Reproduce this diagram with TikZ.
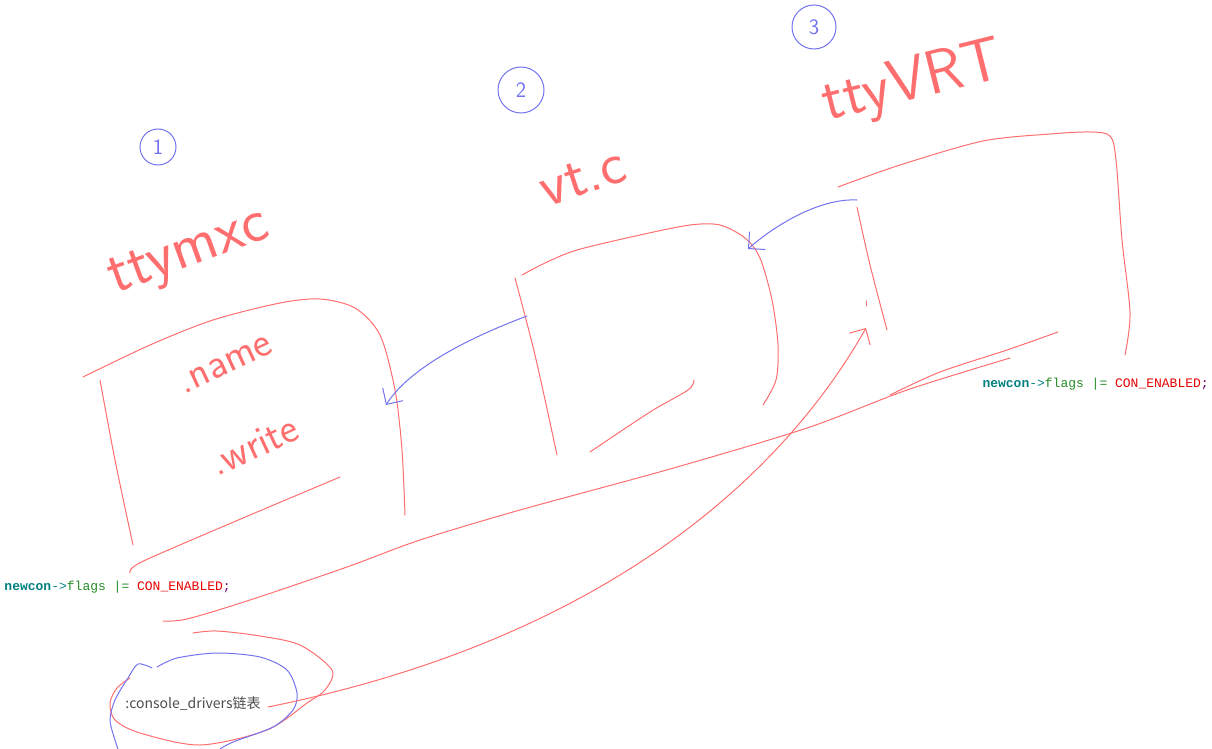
\documentclass[tikz,border=0pt]{standalone}
\usepackage{fontspec}
\setmonofont{Liberation Mono}
\newfontfamily\cjkfont{Noto Sans CJK SC}
\usetikzlibrary{arrows.meta}

\definecolor{sketchred}{RGB}{255,110,110}
\definecolor{sketchblue}{RGB}{115,115,240}
\definecolor{codeteal}{RGB}{0,128,128}
\definecolor{codegreen}{RGB}{40,140,40}
\definecolor{codered}{RGB}{230,0,0}
\definecolor{codepurple}{RGB}{110,0,110}

\begin{document}
\begin{tikzpicture}[x=1pt, y=-1pt, line width=1pt,
        redline/.style = {draw = sketchred, line cap=round, line join=round},
        blueline/.style = {draw = sketchblue, line cap=round, line join=round},
        barb/.style = {-{Straight Barb[length=12pt, width=24pt]}},
        hand/.style = {text = sketchred, inner sep=0pt,
                font = \sffamily\fontsize{#1}{#1}\selectfont},
        num/.style = {circle, draw = sketchblue, text = sketchblue,
                inner sep=0pt, font = \sffamily\fontsize{22}{22}\selectfont},
        code/.style = {anchor=base west, inner sep=0pt,
                font = \ttfamily\fontsize{13}{13}\selectfont}]

    \useasboundingbox (0,0) rectangle (1212,749);

    % circled numbers
    \node [num, minimum size=36pt] (n_1) at (158,147) {1};
    \node [num, minimum size=46pt] (n_2) at (521,90) {2};
    \node [num, minimum size=44pt] (n_3) at (814,27) {3};

    % file names
    \node [hand=62, rotate=20] (mxc) at (190,255) {ttymxc};
    \node [hand=60, rotate=18] (vt) at (583,178) {vt.c};
    \node [hand=62, rotate=14] (vrt) at (913,84) {ttyVRT};

    % box 1
    \draw [redline] plot [smooth] coordinates {(83,377) (150,345) (213,320)
        (280,303) (320,299) (355,308) (380,335) (395,390) (402,450) (405,515)};
    \draw [redline] plot [smooth] coordinates {(100,380) (115,460) (133,545)};
    \draw [redline] plot [smooth] coordinates {(340,477) (243,518) (150,558)
        (132,568) (130,573)};
    \node [hand=42, rotate=25] (name) at (226,365) {.name};
    \node [hand=42, rotate=25] (write) at (254,445) {.write};

    % box 2
    \draw [redline] plot [smooth] coordinates {(522,275) (545,263) (577,250)
        (640,235) (690,225) (720,225) (745,238) (760,258) (772,300) (778,345)
        (776,380) (763,405)};
    \draw [redline] plot [smooth] coordinates {(515,278) (535,355) (557,455)};
    \draw [redline] plot [smooth] coordinates {(694,380) (688,390) (650,412)
        (590,452)};

    % box 3
    \draw [redline] plot [smooth] coordinates {(838,187) (900,165) (983,141)
        (1050,134) (1090,132) (1110,136) (1116,160) (1122,240) (1130,313)
        (1125,355)};
    \draw [redline] plot [smooth] coordinates {(857,207) (870,265) (887,330)};
    \draw [redline] plot [smooth] coordinates {(1058,332) (1007,350) (940,372)
        (890,395)};
    \draw [redline] (866,301) -- (866,306);

    % long stroke
    \draw [redline] plot [smooth] coordinates {(1010,358) (907,390) (807,428)
        (670,469) (520,510) (420,540) (347,567) (250,600) (187,619) (163,621)};

    % code lines
    \node [code] (flags_l) at (4,590) {\textcolor{codeteal}{\bfseries newcon}%
        \textcolor{codeteal}{->}\textcolor{codegreen}{flags |=} %
        \textcolor{codered}{CON\_ENABLED}\textcolor{codepurple}{;}};
    \node [code] (flags_r) at (982,387) {\textcolor{codeteal}{\bfseries newcon}%
        \textcolor{codeteal}{->}\textcolor{codegreen}{flags |=} %
        \textcolor{codered}{CON\_ENABLED}\textcolor{codepurple}{;}};

    % console_drivers
    \node [font=\cjkfont\fontsize{14}{14}\selectfont, text=black!70,
        inner sep=0pt] (drivers) at (193,704) {:console\_drivers链表};
    \draw [redline] plot [smooth] coordinates {(193,633) (217,631) (260,636)
        (300,645) (332,670) (325,690) (307,703) (267,730) (200,745) (140,733)
        (115,720) (110,703) (117,688) (130,678)};
    \draw [blueline] plot [smooth] coordinates {(157,667) (177,658) (217,653)
        (260,657) (287,670) (297,693) (293,710) (273,727) (233,742) (220,749)};
    \draw [blueline] plot [smooth] coordinates {(152,668) (138,664) (128,678)
        (115,700) (110,720) (115,740) (118,749)};

    % arrows
    \coordinate (vt_left) at (527,316);
    \coordinate (mxc_right) at (386,405);
    \coordinate (vrt_left) at (857,200);
    \coordinate (vt_right) at (748,249);
    \coordinate (drivers_out) at (268,707);
    \coordinate (vrt_in) at (866,328);

    \draw [blueline, barb] (vt_left) .. controls (450,345) and (405,375) .. (mxc_right);
    \draw [blueline, barb] (vrt_left) .. controls (820,198) and (775,225) .. (vt_right);
    \draw [redline, barb] (drivers_out) .. controls (600,640) and (780,480) .. (vrt_in);
\end{tikzpicture}
\end{document}
